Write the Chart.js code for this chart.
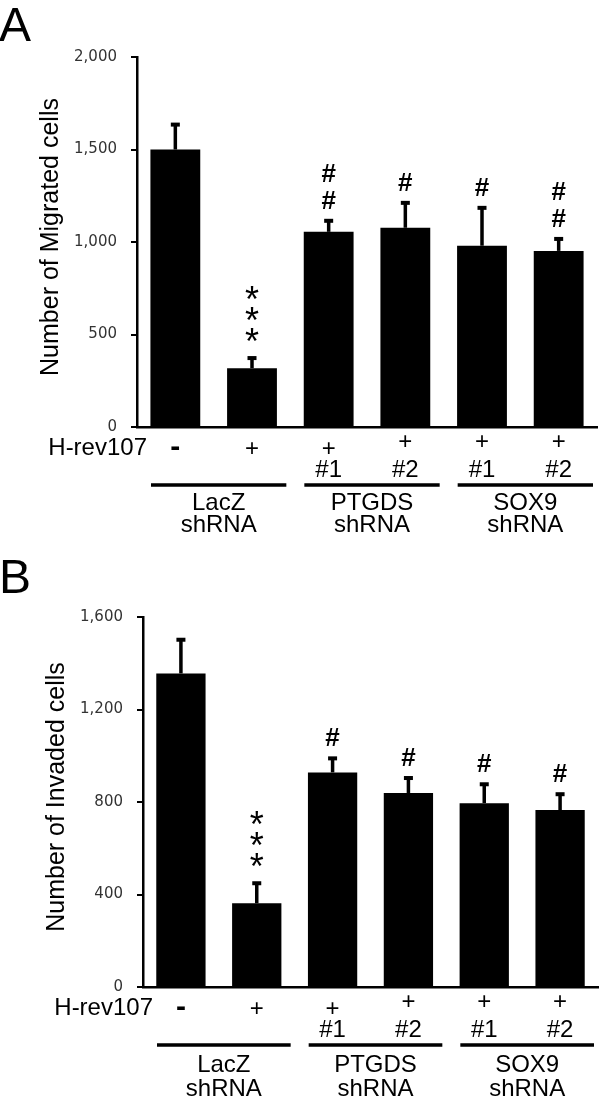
<!DOCTYPE html>
<html lang="en">
<head>
<meta charset="UTF-8">
<title>Migrated and invaded cells</title>
<script src="https://cdn.jsdelivr.net/npm/chart.js"></script>
<style>
  html, body { margin: 0; padding: 0; background: #fff; }
  .panel { position: absolute; left: 0; width: 600px; }
  #panelA { top: 0; }
  #panelB { top: 549px; }
</style>
</head>
<body>
<div class="panel" id="panelA"><canvas id="chartA" width="600" height="549"></canvas></div>
<div class="panel" id="panelB"><canvas id="chartB" width="600" height="550"></canvas></div>
<script>
// categories and under-axis labels
const categories = ['LacZ -', 'LacZ +', 'PTGDS #1', 'PTGDS #2', 'SOX9 #1', 'SOX9 #2'];
const hrevLabels = ['-', '+', '+', '+', '+', '+'];
const shrnaNumbers = ['', '', '#1', '#2', '#1', '#2'];
const groupLabels = [['LacZ', 'shRNA'], ['PTGDS', 'shRNA'], ['SOX9', 'shRNA']];
const groupSpans = [[0, 1], [2, 3], [4, 5]];

// panel A
const migrated = [1500, 318, 1055, 1077, 980, 952];
const migratedErr = [140, 60, 65, 140, 210, 70];
const migratedSig = ['', '***', '##', '#', '#', '##'];
const migratedTicks = [0, 500, 1000, 1500, 2000];

// panel B
const invaded = [1356, 362, 928, 839, 795, 765];
const invadedErr = [150, 91, 65, 69, 86, 73];
const invadedSig = ['', '***', '#', '#', '#', '#'];
const invadedTicks = [0, 400, 800, 1200, 1600];

const ARIAL = '"Liberation Sans", Arial, sans-serif';

// draw a single glyph centred on (x, cy) using its real bounding box
function glyph(ctx, ch, x, cy) {
  const m = ctx.measureText(ch);
  ctx.textAlign = 'center';
  ctx.textBaseline = 'alphabetic';
  ctx.fillText(ch, x, cy + (m.actualBoundingBoxAscent - m.actualBoundingBoxDescent) / 2);
}

const extras = {
  id: 'extras',
  afterDatasetsDraw(chart, args, o) {
    const ctx = chart.ctx;
    const xs = chart.scales.x, ys = chart.scales.y;
    const area = chart.chartArea;
    ctx.save();
    ctx.fillStyle = '#000';

    // error bars (upper only) and significance marks
    o.values.forEach((v, i) => {
      const xc = xs.getPixelForValue(i);
      const yTop = ys.getPixelForValue(v);
      const yCap = ys.getPixelForValue(v + o.errors[i]);
      ctx.fillRect(xc - 1.75, yCap, 3.5, yTop - yCap);
      ctx.fillRect(xc - 4.5, yCap - 1, 9, 4);
      const marks = o.marks[i];
      for (let k = 0; k < marks.length; k++) {
        const star = marks[k] === '*';
        ctx.font = (star ? '36px ' : 'bold 26px ') + ARIAL;
        const cy = yCap - (star ? 22 : 20) - k * (star ? 21 : 27);
        glyph(ctx, marks[k], xc, cy);
      }
    });

    // rows under the axis
    const base = area.bottom;
    categories.forEach((c, i) => {
      const xc = xs.getPixelForValue(i);
      ctx.font = (hrevLabels[i] === '-' ? 'bold 30px ' : '24px ') + ARIAL;
      glyph(ctx, hrevLabels[i], xc, base + 21);
      if (shrnaNumbers[i]) {
        ctx.font = '24px ' + ARIAL;
        ctx.textAlign = 'center';
        ctx.textBaseline = 'middle';
        ctx.fillText(shrnaNumbers[i], xc, base + 43);
      }
    });
    ctx.font = '24px ' + ARIAL;
    ctx.textAlign = 'right';
    ctx.textBaseline = 'middle';
    ctx.fillText('H-rev107', area.left + 10, base + 21);

    const half = (xs.getPixelForValue(1) - xs.getPixelForValue(0)) / 2;
    groupSpans.forEach(([a, b], g) => {
      const x0 = xs.getPixelForValue(a) - half + 14;
      const x1 = xs.getPixelForValue(b) + half - 4;
      ctx.fillRect(x0, base + 58 - 1.75, x1 - x0, 3.5);
      const xm = (x0 + x1) / 2;
      ctx.textAlign = 'center';
      ctx.fillText(groupLabels[g][0], xm, base + 76 + o.rowShift);
      ctx.fillText(groupLabels[g][1], xm, base + 98 + o.rowShift * 2);
    });

    // y axis title
    ctx.save();
    ctx.translate(area.left - 86, (area.top + area.bottom) / 2 - 5);
    ctx.rotate(-Math.PI / 2);
    ctx.font = '25px ' + ARIAL;
    ctx.textAlign = 'center';
    ctx.textBaseline = 'middle';
    ctx.fillText(o.title, 0, 0);
    ctx.restore();

    // panel letter
    ctx.font = '48px ' + ARIAL;
    ctx.textAlign = 'left';
    ctx.textBaseline = 'alphabetic';
    ctx.fillText(o.letter, -1, o.letterY);
    ctx.restore();
  }
};

function makeChart(id, values, errors, marks, ticks, title, letter, letterY, axisWidth, padding, rowShift) {
  return new Chart(document.getElementById(id), {
    type: 'bar',
    data: {
      labels: categories,
      datasets: [{
        data: values,
        backgroundColor: '#000',
        borderWidth: 0,
        barPercentage: 0.65,
        categoryPercentage: 1.0
      }]
    },
    plugins: [extras],
    options: {
      responsive: false,
      animation: false,
      layout: { padding: padding },
      plugins: {
        legend: { display: false },
        tooltip: { enabled: false },
        extras: { values, errors, marks, title, letter, letterY, rowShift }
      },
      scales: {
        x: {
          grid: { display: false },
          border: { display: true, color: '#000', width: 2.5 },
          ticks: { display: false },
          afterFit: s => { s.height = 0; }
        },
        y: {
          min: ticks[0],
          max: ticks[ticks.length - 1],
          afterBuildTicks: s => { s.ticks = ticks.map(v => ({ value: v })); },
          afterFit: s => { s.width = axisWidth; },
          grid: { display: true, drawOnChartArea: false, drawTicks: true, tickLength: 6, color: '#000', lineWidth: 2 },
          border: { display: true, color: '#000', width: 2.5 },
          ticks: {
            padding: 14,
            color: '#333',
            font: { family: '"DejaVu Sans", sans-serif', size: 15 },
            callback: v => v.toLocaleString('en-US')
          }
        }
      }
    }
  });
}

makeChart('chartA', migrated, migratedErr, migratedSig, migratedTicks,
  'Number of Migrated cells', 'A', 41, 137, { top: 57, bottom: 122, left: 0, right: 3 }, 0);
makeChart('chartB', invaded, invadedErr, invadedSig, invadedTicks,
  'Number of Invaded cells', 'B', 44, 143, { top: 68, bottom: 112, left: 0, right: 2 }, 2);
</script>
</body>
</html>
